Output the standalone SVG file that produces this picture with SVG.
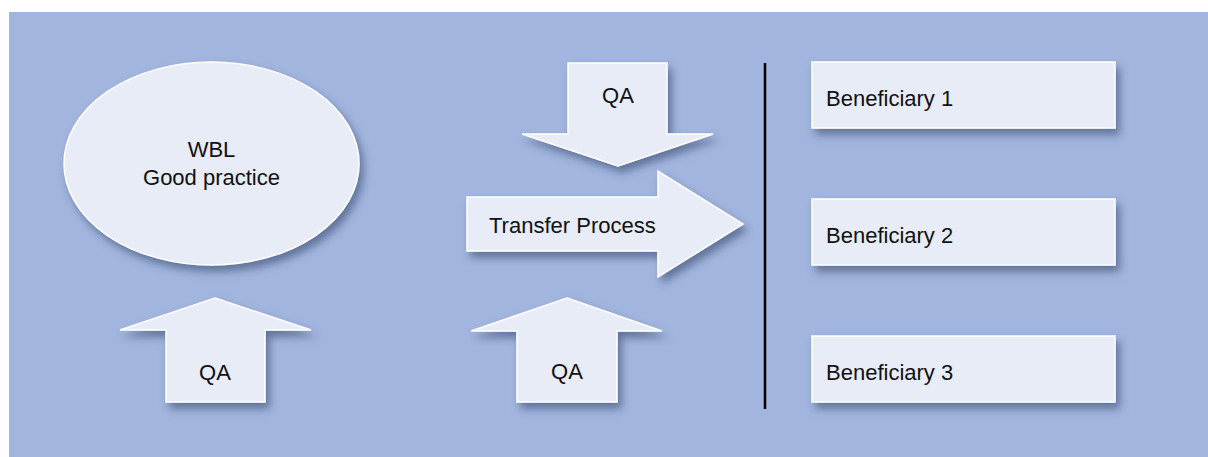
<svg xmlns="http://www.w3.org/2000/svg" width="1208" height="457" viewBox="0 0 1208 457">
<defs>
<filter id="sh" x="-20%" y="-20%" width="150%" height="160%">
<feDropShadow dx="4" dy="6" stdDeviation="4" flood-color="#34466e" flood-opacity="0.6"/>
</filter>
</defs>
<style>
.shape{fill:#e8ecf7;stroke:#ffffff;stroke-width:1.5;filter:url(#sh)}
.lbl{font-family:"Liberation Sans",Arial,sans-serif;font-size:22px;fill:#111111}
.mid{text-anchor:middle}
</style>
<rect x="0" y="0" width="1208" height="457" fill="#ffffff"/>
<rect x="9" y="12" width="1199" height="445" fill="#a2b5de"/>
<g id="wbl">
<ellipse class="shape" cx="211.5" cy="163.5" rx="147.5" ry="101.5"/>
<text class="lbl mid" x="211.5" y="157">WBL</text>
<text class="lbl mid" x="211.5" y="185">Good practice</text>
</g>
<g id="qa-left">
<polygon class="shape" points="215,298 311,330 265,330 265,402 166,402 166,330 120,330"/>
<text class="lbl mid" x="215" y="380">QA</text>
</g>
<g id="qa-top">
<polygon class="shape" points="568,63 667,63 667,134 713,134 618,166 522,134 568,134"/>
<text class="lbl mid" x="618" y="103">QA</text>
</g>
<g id="transfer">
<polygon class="shape" points="467,197 658,197 658,171 743,224 658,277 658,251 467,251"/>
<text class="lbl" x="489" y="233">Transfer Process</text>
</g>
<g id="qa-bottom">
<polygon class="shape" points="567,298 662,331 617,331 617,402 517,402 517,331 471,331"/>
<text class="lbl mid" x="567" y="379">QA</text>
</g>
<g id="connectors">
<line x1="765" y1="63" x2="765" y2="409" stroke="#000000" stroke-width="2.5"/>
</g>
<g id="beneficiary-1">
<rect class="shape" x="812" y="62" width="303" height="66"/>
<text class="lbl" x="826" y="106">Beneficiary 1</text>
</g>
<g id="beneficiary-2">
<rect class="shape" x="812" y="199" width="303" height="66"/>
<text class="lbl" x="826" y="243">Beneficiary 2</text>
</g>
<g id="beneficiary-3">
<rect class="shape" x="812" y="336" width="303" height="66"/>
<text class="lbl" x="826" y="380">Beneficiary 3</text>
</g>
</svg>
